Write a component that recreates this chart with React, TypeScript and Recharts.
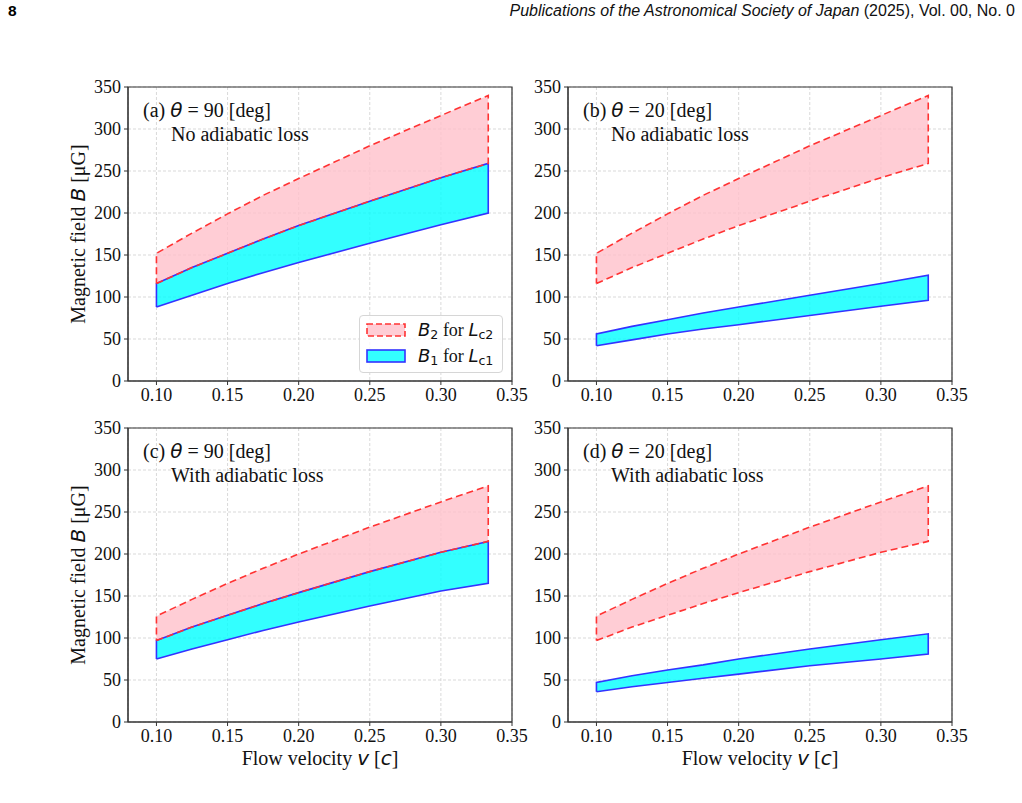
import React from "react"
import {
  ComposedChart,
  Area,
  Line,
  XAxis,
  YAxis,
  CartesianGrid,
  ReferenceArea,
} from "recharts"

// flow velocity samples (in units of c)
const velocity = [0.1, 0.125, 0.15, 0.175, 0.2, 0.25, 0.3, 0.3333]

// theta = 90 deg, no adiabatic loss
const b2UpperT90 = [152, 176, 199, 221, 241, 280, 316, 340]
const b2LowerT90 = [116, 135, 152, 169, 185, 214, 242, 259]
const b1UpperT90 = [116, 135, 152, 169, 185, 214, 242, 259]
const b1LowerT90 = [88, 102, 116, 129, 141, 164, 186, 200]

// theta = 20 deg, no adiabatic loss
const b2UpperT20 = [152, 176, 199, 221, 241, 280, 316, 340]
const b2LowerT20 = [116, 135, 152, 169, 185, 214, 242, 259]
const b1UpperT20 = [56, 65, 73, 81, 88, 102, 116, 126]
const b1LowerT20 = [42, 49, 56, 62, 67, 78, 89, 96]

// theta = 90 deg, with adiabatic loss
const b2UpperT90Ad = [126, 146, 165, 183, 200, 232, 262, 281]
const b2LowerT90Ad = [97, 113, 127, 141, 154, 179, 202, 215]
const b1UpperT90Ad = [97, 113, 127, 141, 154, 179, 202, 215]
const b1LowerT90Ad = [75, 87, 98, 109, 119, 138, 156, 165]

// theta = 20 deg, with adiabatic loss
const b2UpperT20Ad = [126, 146, 165, 183, 200, 232, 262, 281]
const b2LowerT20Ad = [97, 113, 127, 141, 154, 179, 202, 215]
const b1UpperT20Ad = [47, 55, 62, 68, 75, 87, 98, 105]
const b1LowerT20Ad = [36, 42, 47, 52, 57, 67, 75, 81]

const xTicks = [0.1, 0.15, 0.2, 0.25, 0.3, 0.35]
const yTicks = [0, 50, 100, 150, 200, 250, 300, 350]

const SERIF = "'Liberation Serif', 'Times New Roman', serif"
const MATH = "'DejaVu Sans', sans-serif"
const SANS = "'Liberation Sans', Arial, sans-serif"

const PINK = "#ffc0cb"
const CYAN = "#00ffff"
const RED = "#ff3333"
const BLUE = "#3333ff"

// chart box geometry: plot area is 384 x 294
const CHART_W = 470
const CHART_H = 360
const M = { top: 17, right: 18, bottom: 19, left: 28 }
const Y_AXIS_W = 40
const X_AXIS_H = 30
const PLOT_W = 384
const PLOT_H = 294

function bandRows(b2Lo: number[], b2Hi: number[], b1Lo: number[], b1Hi: number[]) {
  return velocity.map((v, i) => ({
    v,
    b2: [b2Lo[i], b2Hi[i]],
    b1: [b1Lo[i], b1Hi[i]],
  }))
}

// closed outline: lower edge left->right, then upper edge right->left
function outline(lo: number[], hi: number[]) {
  const pts = velocity.map((v, i) => ({ v, y: lo[i] }))
  for (let i = velocity.length - 1; i >= 0; i--) pts.push({ v: velocity[i], y: hi[i] })
  pts.push({ v: velocity[0], y: lo[0] })
  return pts
}

const Theta = () => <span style={{ fontFamily: MATH, fontStyle: "italic" }}>θ</span>
const MathI = ({ children }: { children: React.ReactNode }) => (
  <span style={{ fontFamily: MATH, fontStyle: "italic" }}>{children}</span>
)
const Sub = ({ children }: { children: React.ReactNode }) => (
  <sub style={{ fontFamily: MATH, fontSize: "0.7em", verticalAlign: "-0.25em", lineHeight: 0 }}>{children}</sub>
)

interface PanelProps {
  left: number
  top: number
  tag: string
  theta: string
  note: string
  b2Lo: number[]
  b2Hi: number[]
  b1Lo: number[]
  b1Hi: number[]
  yLabel?: boolean
  xLabel?: boolean
  legend?: boolean
}

function Legend2() {
  const items = [
    { fill: PINK, stroke: RED, dash: "6 3", name: "B", sub: "2", lname: "c2" },
    { fill: CYAN, stroke: BLUE, dash: undefined, name: "B", sub: "1", lname: "c1" },
  ]
  return (
    <div
      style={{
        position: "absolute",
        right: 9,
        bottom: 8,
        width: 142,
        height: 56,
        border: "1px solid #d6d6d6",
        borderRadius: 4,
        background: "rgba(255,255,255,0.8)",
        fontFamily: SERIF,
        fontSize: 18,
      }}
    >
      {items.map((it, k) => (
        <div key={k} style={{ position: "absolute", left: 6, top: 7 + k * 26, height: 14, display: "flex", alignItems: "center" }}>
          <svg width={40} height={14} style={{ display: "block" }}>
            <rect x={1} y={1} width={38} height={12} fill={it.fill} fillOpacity={0.8} stroke={it.stroke} strokeWidth={1.6} strokeDasharray={it.dash} />
          </svg>
          <span style={{ marginLeft: 12, whiteSpace: "nowrap" }}>
            <MathI>{it.name}</MathI>
            <Sub>{it.sub}</Sub> for <MathI>L</MathI>
            <Sub>{it.lname}</Sub>
          </span>
        </div>
      ))}
    </div>
  )
}

function Panel(p: PanelProps) {
  const rows = bandRows(p.b2Lo, p.b2Hi, p.b1Lo, p.b1Hi)
  return (
    <>
      <div style={{ position: "absolute", left: p.left - M.left - Y_AXIS_W, top: p.top - M.top }}>
        <ComposedChart width={CHART_W} height={CHART_H} data={rows} margin={M}>
          <CartesianGrid stroke="#cfcfcf" strokeDasharray="3 2" strokeWidth={0.8} />
          <XAxis
            dataKey="v"
            type="number"
            domain={[0.08, 0.35]}
            ticks={xTicks}
            allowDataOverflow
            height={X_AXIS_H}
            tickFormatter={(t: number) => t.toFixed(2)}
            tick={{ fill: "#111", fontSize: 18, fontFamily: SERIF }}
            tickSize={4}
            tickMargin={3}
            stroke="#333"
          />
          <YAxis
            type="number"
            domain={[0, 350]}
            ticks={yTicks}
            width={Y_AXIS_W}
            tick={{ fill: "#111", fontSize: 18, fontFamily: SERIF }}
            tickSize={4}
            tickMargin={3}
            stroke="#333"
          />
          <Area dataKey="b1" type="linear" fill={CYAN} fillOpacity={0.8} stroke="none" isAnimationActive={false} />
          <Line data={outline(p.b1Lo, p.b1Hi)} dataKey="y" type="linear" stroke={BLUE} strokeWidth={1.6} dot={false} isAnimationActive={false} />
          <Area dataKey="b2" type="linear" fill={PINK} fillOpacity={0.8} stroke="none" isAnimationActive={false} />
          <Line
            data={outline(p.b2Lo, p.b2Hi)}
            dataKey="y"
            type="linear"
            stroke={RED}
            strokeWidth={1.6}
            strokeDasharray="7 4"
            dot={false}
            isAnimationActive={false}
          />
          <ReferenceArea x1={0.08} x2={0.35} y1={0} y2={350} fill="none" stroke="#333" strokeWidth={1.2} ifOverflow="visible" />
        </ComposedChart>
      </div>
      <div style={{ position: "absolute", left: p.left, top: p.top, width: PLOT_W, height: PLOT_H, fontFamily: SERIF, fontSize: 20, color: "#111" }}>
        <div style={{ position: "absolute", left: 15, top: 11, whiteSpace: "nowrap" }}>
          {p.tag} <Theta /> = {p.theta} [deg]
        </div>
        <div style={{ position: "absolute", left: 43, top: 36, whiteSpace: "nowrap" }}>{p.note}</div>
        {p.legend && <Legend2 />}
      </div>
      {p.yLabel && (
        <div
          style={{
            position: "absolute",
            left: p.left - 50,
            top: p.top + PLOT_H / 2,
            transform: "translate(-50%, -50%) rotate(-90deg)",
            whiteSpace: "nowrap",
            fontFamily: SERIF,
            fontSize: 20,
            color: "#111",
          }}
        >
          Magnetic field <MathI>B</MathI> [μG]
        </div>
      )}
      {p.xLabel && (
        <div
          style={{
            position: "absolute",
            left: p.left + PLOT_W / 2,
            top: p.top + PLOT_H + 36,
            transform: "translate(-50%, -50%)",
            whiteSpace: "nowrap",
            fontFamily: SERIF,
            fontSize: 20,
            color: "#111",
          }}
        >
          Flow velocity <MathI>v</MathI> [<MathI>c</MathI>]
        </div>
      )}
    </>
  )
}

export default function App() {
  return (
    <div style={{ position: "absolute", left: 0, top: 0, width: 1022, height: 803, background: "#fff", overflow: "hidden" }}>
      <div style={{ position: "absolute", left: 8, top: 2, fontFamily: SANS, fontWeight: 700, fontSize: 15.5 }}>8</div>
      <div style={{ position: "absolute", right: 7, top: 2, fontFamily: SANS, fontSize: 16, whiteSpace: "nowrap", color: "#111" }}>
        <i>Publications of the Astronomical Society of Japan</i> (2025), Vol. 00, No. 0
      </div>

      <Panel left={128} top={87} tag="(a)" theta="90" note="No adiabatic loss"
        b2Lo={b2LowerT90} b2Hi={b2UpperT90} b1Lo={b1LowerT90} b1Hi={b1UpperT90} yLabel legend />
      <Panel left={568} top={87} tag="(b)" theta="20" note="No adiabatic loss"
        b2Lo={b2LowerT20} b2Hi={b2UpperT20} b1Lo={b1LowerT20} b1Hi={b1UpperT20} />
      <Panel left={128} top={428} tag="(c)" theta="90" note="With adiabatic loss"
        b2Lo={b2LowerT90Ad} b2Hi={b2UpperT90Ad} b1Lo={b1LowerT90Ad} b1Hi={b1UpperT90Ad} yLabel xLabel />
      <Panel left={568} top={428} tag="(d)" theta="20" note="With adiabatic loss"
        b2Lo={b2LowerT20Ad} b2Hi={b2UpperT20Ad} b1Lo={b1LowerT20Ad} b1Hi={b1UpperT20Ad} xLabel />
    </div>
  )
}
